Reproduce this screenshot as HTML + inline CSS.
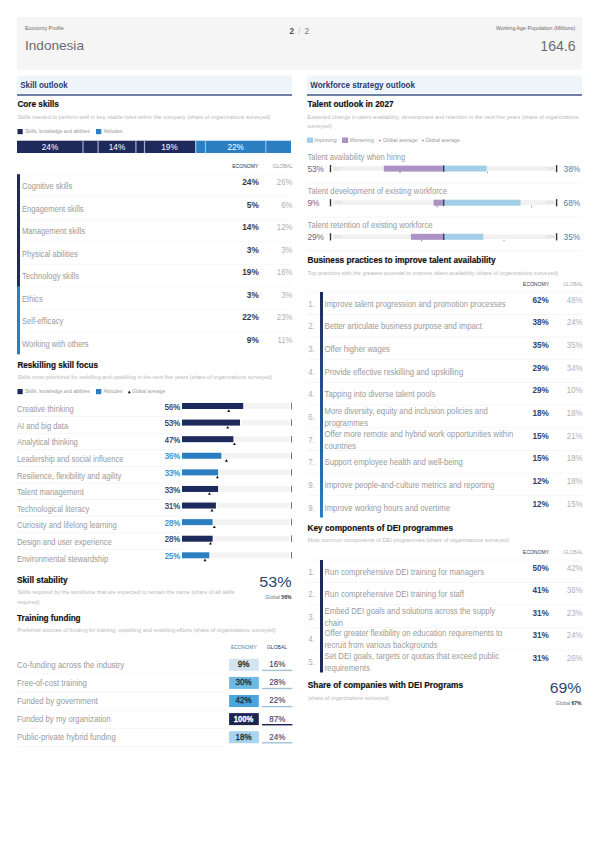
<!DOCTYPE html>
<html><head><meta charset="utf-8"><style>
html,body{margin:0;padding:0;background:#fff;}
body{width:600px;height:848px;overflow:hidden;}
svg{display:block;}
</style></head><body>
<svg width="600" height="848" viewBox="0 0 600 848" font-family="Liberation Sans, Arial, sans-serif">
<defs><linearGradient id="g1" x1="0" y1="0" x2="0" y2="1"><stop offset="0" stop-color="#1e2a5c"/><stop offset="1" stop-color="#2b7fc0"/></linearGradient></defs>
<rect x="0" y="0" width="600" height="848" fill="#fff"/>
<rect x="17.00" y="17.00" width="565.00" height="52.60" fill="#f5f5f5"/>
<text x="25.00" y="30.40" font-size="5.6" fill="#6a6a6a" textLength="38.69" lengthAdjust="spacingAndGlyphs">Economy Profile</text>
<text x="25.00" y="50.20" font-size="13.6" fill="#6c6c6c">Indonesia</text>
<text x="289.60" y="33.80" font-size="8.3" fill="#555" font-weight="700">2</text>
<text x="299.40" y="33.80" font-size="8.3" fill="#c4c4c4" text-anchor="middle">/</text>
<text x="304.60" y="33.80" font-size="8.3" fill="#777">2</text>
<text x="575.20" y="30.40" font-size="5.7" fill="#6a6a6a" text-anchor="end" textLength="79.20" lengthAdjust="spacingAndGlyphs">Working Age Population (Millions)</text>
<text x="575.60" y="50.70" font-size="14.3" fill="#6c6c6c" text-anchor="end" textLength="35.30" lengthAdjust="spacingAndGlyphs">164.6</text>
<rect x="17.00" y="75.50" width="275.00" height="17.80" fill="#eef6fc"/>
<rect x="17.00" y="94.00" width="275.00" height="2.00" fill="#6e80a7"/>
<text x="20.20" y="88.40" font-size="8.5" fill="#2a3a6e" font-weight="700" textLength="47.59" lengthAdjust="spacingAndGlyphs">Skill outlook</text>
<rect x="307.00" y="75.50" width="275.00" height="17.80" fill="#eef6fc"/>
<rect x="307.00" y="94.00" width="275.00" height="2.00" fill="#6e80a7"/>
<text x="310.20" y="88.40" font-size="8.5" fill="#2a3a6e" font-weight="700" textLength="104.80" lengthAdjust="spacingAndGlyphs">Workforce strategy outlook</text>
<text x="17.40" y="107.20" font-size="8.3" fill="#111" font-weight="700" textLength="41.48" lengthAdjust="spacingAndGlyphs" stroke="#111" stroke-width="0.18">Core skills</text>
<text x="17.50" y="119.00" font-size="5.6" fill="#b9b9b9">Skills needed to perform well in key, stable roles within the company (share of organizations surveyed)</text>
<rect x="17.50" y="129.00" width="5.20" height="5.20" fill="#1e2a5c"/>
<text x="25.00" y="133.30" font-size="4.9" fill="#999">Skills, knowledge and abilities</text>
<rect x="96.00" y="129.00" width="5.30" height="5.20" fill="#2b7fc0"/>
<text x="103.40" y="133.30" font-size="4.9" fill="#999">Attitudes</text>
<rect x="17.00" y="140.70" width="178.10" height="12.30" fill="#1e2a5c"/>
<rect x="195.10" y="140.70" width="95.90" height="12.30" fill="#2b7fc0"/>
<rect x="82.40" y="140.70" width="1.20" height="12.30" fill="#a3afd0"/>
<rect x="97.50" y="140.70" width="1.20" height="12.30" fill="#a3afd0"/>
<rect x="135.30" y="140.70" width="1.20" height="12.30" fill="#a3afd0"/>
<rect x="143.90" y="140.70" width="1.20" height="12.30" fill="#a3afd0"/>
<rect x="204.90" y="140.70" width="1.20" height="12.30" fill="#8cc2e8"/>
<rect x="265.20" y="140.70" width="1.20" height="12.30" fill="#8cc2e8"/>
<rect x="195.10" y="140.70" width="1.30" height="12.30" fill="#8cc2e8"/>
<text x="50.00" y="150.40" font-size="8.2" fill="#fff" text-anchor="middle">24%</text>
<text x="117.00" y="150.40" font-size="8.2" fill="#fff" text-anchor="middle">14%</text>
<text x="169.50" y="150.40" font-size="8.2" fill="#fff" text-anchor="middle">19%</text>
<text x="235.60" y="150.40" font-size="8.2" fill="#fff" text-anchor="middle">22%</text>
<text x="245.30" y="168.00" font-size="5.1" fill="#333" text-anchor="middle">ECONOMY</text>
<text x="282.70" y="168.00" font-size="5.0" fill="#999" text-anchor="middle">GLOBAL</text>
<rect x="17.00" y="173.70" width="275.00" height="1.00" fill="#f8f8f8"/>
<text x="22.00" y="189.00" font-size="8.5" fill="#9a9a9a" textLength="50.25" lengthAdjust="spacingAndGlyphs">Cognitive skills</text>
<text x="258.80" y="185.00" font-size="8.3" fill="#3a3a3a" font-weight="700" text-anchor="end">24%</text>
<text x="292.50" y="185.10" font-size="8.5" fill="#b0b0b0" text-anchor="end" textLength="15.65" lengthAdjust="spacingAndGlyphs">26%</text>
<rect x="17.00" y="196.22" width="275.00" height="1.00" fill="#f8f8f8"/>
<text x="22.00" y="211.52" font-size="8.5" fill="#9a9a9a" textLength="61.67" lengthAdjust="spacingAndGlyphs">Engagement skills</text>
<text x="258.80" y="207.52" font-size="8.3" fill="#3a3a3a" font-weight="700" text-anchor="end">5%</text>
<text x="292.50" y="207.62" font-size="8.5" fill="#b0b0b0" text-anchor="end" textLength="11.30" lengthAdjust="spacingAndGlyphs">6%</text>
<rect x="17.00" y="218.74" width="275.00" height="1.00" fill="#f8f8f8"/>
<text x="22.00" y="234.04" font-size="8.5" fill="#9a9a9a" textLength="62.93" lengthAdjust="spacingAndGlyphs">Management skills</text>
<text x="258.80" y="230.04" font-size="8.3" fill="#3a3a3a" font-weight="700" text-anchor="end">14%</text>
<text x="292.50" y="230.14" font-size="8.5" fill="#b0b0b0" text-anchor="end" textLength="15.65" lengthAdjust="spacingAndGlyphs">12%</text>
<rect x="17.00" y="241.26" width="275.00" height="1.00" fill="#f8f8f8"/>
<text x="22.00" y="256.56" font-size="8.5" fill="#9a9a9a" textLength="55.75" lengthAdjust="spacingAndGlyphs">Physical abilities</text>
<text x="258.80" y="252.56" font-size="8.3" fill="#3a3a3a" font-weight="700" text-anchor="end">3%</text>
<text x="292.50" y="252.66" font-size="8.5" fill="#b0b0b0" text-anchor="end" textLength="11.30" lengthAdjust="spacingAndGlyphs">3%</text>
<rect x="17.00" y="263.78" width="275.00" height="1.00" fill="#f8f8f8"/>
<text x="22.00" y="279.08" font-size="8.5" fill="#9a9a9a" textLength="57.02" lengthAdjust="spacingAndGlyphs">Technology skills</text>
<text x="258.80" y="275.08" font-size="8.3" fill="#3a3a3a" font-weight="700" text-anchor="end">19%</text>
<text x="292.50" y="275.18" font-size="8.5" fill="#b0b0b0" text-anchor="end" textLength="15.65" lengthAdjust="spacingAndGlyphs">16%</text>
<rect x="17.00" y="286.30" width="275.00" height="1.00" fill="#f8f8f8"/>
<text x="22.00" y="301.60" font-size="8.5" fill="#9a9a9a" textLength="20.69" lengthAdjust="spacingAndGlyphs">Ethics</text>
<text x="258.80" y="297.60" font-size="8.3" fill="#3a3a3a" font-weight="700" text-anchor="end">3%</text>
<text x="292.50" y="297.70" font-size="8.5" fill="#b0b0b0" text-anchor="end" textLength="11.30" lengthAdjust="spacingAndGlyphs">3%</text>
<rect x="17.00" y="308.82" width="275.00" height="1.00" fill="#f8f8f8"/>
<text x="22.00" y="324.12" font-size="8.5" fill="#9a9a9a" textLength="41.25" lengthAdjust="spacingAndGlyphs">Self-efficacy</text>
<text x="258.80" y="320.12" font-size="8.3" fill="#3a3a3a" font-weight="700" text-anchor="end">22%</text>
<text x="292.50" y="320.22" font-size="8.5" fill="#b0b0b0" text-anchor="end" textLength="15.65" lengthAdjust="spacingAndGlyphs">23%</text>
<rect x="17.00" y="331.34" width="275.00" height="1.00" fill="#f8f8f8"/>
<text x="22.00" y="346.64" font-size="8.5" fill="#9a9a9a" textLength="66.59" lengthAdjust="spacingAndGlyphs">Working with others</text>
<text x="258.80" y="342.64" font-size="8.3" fill="#3a3a3a" font-weight="700" text-anchor="end">9%</text>
<text x="292.50" y="342.74" font-size="8.5" fill="#b0b0b0" text-anchor="end" textLength="15.07" lengthAdjust="spacingAndGlyphs">11%</text>
<rect x="17.00" y="174.20" width="3.00" height="112.60" fill="#1e2a5c"/>
<rect x="17.00" y="286.80" width="3.00" height="67.56" fill="#2b7fc0"/>
<text x="17.40" y="368.00" font-size="8.3" fill="#111" font-weight="700" textLength="80.58" lengthAdjust="spacingAndGlyphs" stroke="#111" stroke-width="0.18">Reskilling skill focus</text>
<text x="17.50" y="379.10" font-size="5.55" fill="#b9b9b9">Skills most prioritized for reskilling and upskilling in the next five years (share of organizations surveyed)</text>
<rect x="17.50" y="389.00" width="5.20" height="5.20" fill="#1e2a5c"/>
<text x="25.00" y="393.40" font-size="4.9" fill="#999">Skills, knowledge and abilities</text>
<rect x="96.00" y="389.00" width="5.30" height="5.20" fill="#2b7fc0"/>
<text x="103.40" y="393.40" font-size="4.9" fill="#999">Attitudes</text>
<path d="M127.80 393.20L129.30 390.60L130.80 393.20Z" fill="#111"/>
<text x="132.00" y="393.40" font-size="4.9" fill="#999">Global average</text>
<text x="17.00" y="412.20" font-size="8.3" fill="#9a9a9a" textLength="56.63" lengthAdjust="spacingAndGlyphs">Creative thinking</text>
<text x="180.20" y="409.60" font-size="8.7" fill="#2c3458" text-anchor="end" textLength="15.50" lengthAdjust="spacingAndGlyphs" stroke="#2c3458" stroke-width="0.22">56%</text>
<rect x="244.46" y="403.20" width="45.14" height="5.60" fill="#f3f3f3"/>
<rect x="182.00" y="403.00" width="61.26" height="6.00" fill="#1e2a5c"/>
<rect x="291.00" y="402.70" width="0.90" height="6.60" fill="#666"/>
<path d="M227.30 411.90L228.80 409.30L230.30 411.90Z" fill="#111"/>
<rect x="17.00" y="416.29" width="165.00" height="0.70" fill="#f1f1f1"/>
<text x="17.00" y="428.79" font-size="8.3" fill="#9a9a9a" textLength="51.15" lengthAdjust="spacingAndGlyphs">AI and big data</text>
<text x="180.20" y="426.19" font-size="8.7" fill="#2c3458" text-anchor="end" textLength="15.50" lengthAdjust="spacingAndGlyphs" stroke="#2c3458" stroke-width="0.22">53%</text>
<rect x="241.18" y="419.79" width="48.42" height="5.60" fill="#f3f3f3"/>
<rect x="182.00" y="419.59" width="57.98" height="6.00" fill="#1e2a5c"/>
<rect x="291.00" y="419.29" width="0.90" height="6.60" fill="#666"/>
<path d="M226.20 428.49L227.70 425.89L229.20 428.49Z" fill="#111"/>
<rect x="17.00" y="432.88" width="165.00" height="0.70" fill="#f1f1f1"/>
<text x="17.00" y="445.38" font-size="8.3" fill="#9a9a9a" textLength="60.86" lengthAdjust="spacingAndGlyphs">Analytical thinking</text>
<text x="180.20" y="442.78" font-size="8.7" fill="#2c3458" text-anchor="end" textLength="15.50" lengthAdjust="spacingAndGlyphs" stroke="#2c3458" stroke-width="0.22">47%</text>
<rect x="234.62" y="436.38" width="54.98" height="5.60" fill="#f3f3f3"/>
<rect x="182.00" y="436.18" width="51.42" height="6.00" fill="#1e2a5c"/>
<rect x="291.00" y="435.88" width="0.90" height="6.60" fill="#666"/>
<path d="M232.90 445.08L234.40 442.48L235.90 445.08Z" fill="#111"/>
<rect x="17.00" y="449.47" width="165.00" height="0.70" fill="#f1f1f1"/>
<text x="17.00" y="461.97" font-size="8.3" fill="#9a9a9a" textLength="106.51" lengthAdjust="spacingAndGlyphs">Leadership and social influence</text>
<text x="180.20" y="459.37" font-size="8.7" fill="#3585c2" text-anchor="end" textLength="15.50" lengthAdjust="spacingAndGlyphs" stroke="#3585c2" stroke-width="0.22">36%</text>
<rect x="222.58" y="452.97" width="67.02" height="5.60" fill="#f3f3f3"/>
<rect x="182.00" y="452.77" width="39.38" height="6.00" fill="#2b7fc0"/>
<rect x="291.00" y="452.47" width="0.90" height="6.60" fill="#666"/>
<path d="M224.90 461.67L226.40 459.07L227.90 461.67Z" fill="#111"/>
<rect x="17.00" y="466.06" width="165.00" height="0.70" fill="#f1f1f1"/>
<text x="17.00" y="478.56" font-size="8.3" fill="#9a9a9a" textLength="104.38" lengthAdjust="spacingAndGlyphs">Resilience, flexibility and agility</text>
<text x="180.20" y="475.96" font-size="8.7" fill="#3585c2" text-anchor="end" textLength="15.50" lengthAdjust="spacingAndGlyphs" stroke="#3585c2" stroke-width="0.22">33%</text>
<rect x="219.30" y="469.56" width="70.30" height="5.60" fill="#f3f3f3"/>
<rect x="182.00" y="469.36" width="36.10" height="6.00" fill="#2b7fc0"/>
<rect x="291.00" y="469.06" width="0.90" height="6.60" fill="#666"/>
<path d="M215.90 478.26L217.40 475.66L218.90 478.26Z" fill="#111"/>
<rect x="17.00" y="482.65" width="165.00" height="0.70" fill="#f1f1f1"/>
<text x="17.00" y="495.15" font-size="8.3" fill="#9a9a9a" textLength="66.78" lengthAdjust="spacingAndGlyphs">Talent management</text>
<text x="180.20" y="492.55" font-size="8.7" fill="#2c3458" text-anchor="end" textLength="15.50" lengthAdjust="spacingAndGlyphs" stroke="#2c3458" stroke-width="0.22">33%</text>
<rect x="219.30" y="486.15" width="70.30" height="5.60" fill="#f3f3f3"/>
<rect x="182.00" y="485.95" width="36.10" height="6.00" fill="#1e2a5c"/>
<rect x="291.00" y="485.65" width="0.90" height="6.60" fill="#666"/>
<path d="M207.90 494.85L209.40 492.25L210.90 494.85Z" fill="#111"/>
<rect x="17.00" y="499.24" width="165.00" height="0.70" fill="#f1f1f1"/>
<text x="17.00" y="511.74" font-size="8.3" fill="#9a9a9a" textLength="72.26" lengthAdjust="spacingAndGlyphs">Technological literacy</text>
<text x="180.20" y="509.14" font-size="8.7" fill="#2c3458" text-anchor="end" textLength="15.50" lengthAdjust="spacingAndGlyphs" stroke="#2c3458" stroke-width="0.22">31%</text>
<rect x="217.11" y="502.74" width="72.49" height="5.60" fill="#f3f3f3"/>
<rect x="182.00" y="502.54" width="33.91" height="6.00" fill="#1e2a5c"/>
<rect x="291.00" y="502.24" width="0.90" height="6.60" fill="#666"/>
<path d="M210.50 511.44L212.00 508.84L213.50 511.44Z" fill="#111"/>
<rect x="17.00" y="515.83" width="165.00" height="0.70" fill="#f1f1f1"/>
<text x="17.00" y="528.33" font-size="8.3" fill="#9a9a9a" textLength="99.74" lengthAdjust="spacingAndGlyphs">Curiosity and lifelong learning</text>
<text x="180.20" y="525.73" font-size="8.7" fill="#3585c2" text-anchor="end" textLength="15.50" lengthAdjust="spacingAndGlyphs" stroke="#3585c2" stroke-width="0.22">28%</text>
<rect x="213.83" y="519.33" width="75.77" height="5.60" fill="#f3f3f3"/>
<rect x="182.00" y="519.13" width="30.63" height="6.00" fill="#2b7fc0"/>
<rect x="291.00" y="518.83" width="0.90" height="6.60" fill="#666"/>
<path d="M212.80 528.03L214.30 525.43L215.80 528.03Z" fill="#111"/>
<rect x="17.00" y="532.42" width="165.00" height="0.70" fill="#f1f1f1"/>
<text x="17.00" y="544.92" font-size="8.3" fill="#9a9a9a" textLength="94.67" lengthAdjust="spacingAndGlyphs">Design and user experience</text>
<text x="180.20" y="542.32" font-size="8.7" fill="#2c3458" text-anchor="end" textLength="15.50" lengthAdjust="spacingAndGlyphs" stroke="#2c3458" stroke-width="0.22">28%</text>
<rect x="213.83" y="535.92" width="75.77" height="5.60" fill="#f3f3f3"/>
<rect x="182.00" y="535.72" width="30.63" height="6.00" fill="#1e2a5c"/>
<rect x="291.00" y="535.42" width="0.90" height="6.60" fill="#666"/>
<path d="M208.90 544.62L210.40 542.02L211.90 544.62Z" fill="#111"/>
<rect x="17.00" y="549.01" width="165.00" height="0.70" fill="#f1f1f1"/>
<text x="17.00" y="561.51" font-size="8.3" fill="#9a9a9a" textLength="91.28" lengthAdjust="spacingAndGlyphs">Environmental stewardship</text>
<text x="180.20" y="558.91" font-size="8.7" fill="#3585c2" text-anchor="end" textLength="15.50" lengthAdjust="spacingAndGlyphs" stroke="#3585c2" stroke-width="0.22">25%</text>
<rect x="210.55" y="552.51" width="79.05" height="5.60" fill="#f3f3f3"/>
<rect x="182.00" y="552.31" width="27.35" height="6.00" fill="#2b7fc0"/>
<rect x="291.00" y="552.01" width="0.90" height="6.60" fill="#666"/>
<path d="M203.50 561.21L205.00 558.61L206.50 561.21Z" fill="#111"/>
<text x="17.00" y="583.00" font-size="8.3" fill="#111" font-weight="700" textLength="50.58" lengthAdjust="spacingAndGlyphs" stroke="#111" stroke-width="0.18">Skill stability</text>
<text x="17.50" y="594.40" font-size="5.6" fill="#b9b9b9" textLength="216.89" lengthAdjust="spacingAndGlyphs">Skills required by the workforce that are expected to remain the same (share of all skills</text>
<text x="17.50" y="603.60" font-size="5.55" fill="#b9b9b9">required)</text>
<text x="291.50" y="586.70" font-size="15.3" fill="#2d4670" text-anchor="end" textLength="32.27" lengthAdjust="spacingAndGlyphs">53%</text>
<text x="291.50" y="599.40" font-size="5.1" fill="#777" text-anchor="end" textLength="26.16" lengthAdjust="spacingAndGlyphs">Global <tspan font-weight="700" fill="#333">56%</tspan></text>
<text x="17.00" y="621.20" font-size="8.3" fill="#111" font-weight="700" textLength="63.58" lengthAdjust="spacingAndGlyphs" stroke="#111" stroke-width="0.18">Training funding</text>
<text x="17.50" y="632.00" font-size="5.55" fill="#b9b9b9">Preferred sources of funding for training, upskilling and reskilling efforts (share of organizations surveyed)</text>
<text x="243.80" y="649.30" font-size="5.0" fill="#4f7ea6" text-anchor="middle">ECONOMY</text>
<text x="277.00" y="649.30" font-size="5.0" fill="#2d3c66" text-anchor="middle">GLOBAL</text>
<text x="17.00" y="668.00" font-size="8.3" fill="#9a9a9a" textLength="107.33" lengthAdjust="spacingAndGlyphs">Co-funding across the industry</text>
<rect x="17.00" y="673.70" width="212.00" height="0.60" fill="#f1f1f1"/>
<rect x="229.10" y="658.80" width="29.70" height="12.00" fill="#d3e4ef"/>
<text x="243.60" y="667.20" font-size="8.9" fill="#222" text-anchor="middle" textLength="11.58" lengthAdjust="spacingAndGlyphs" stroke="#222" stroke-width="0.3">9%</text>
<text x="277.30" y="667.20" font-size="8.9" fill="#34406a" text-anchor="middle" textLength="16.03" lengthAdjust="spacingAndGlyphs" stroke="#34406a" stroke-width="0.12">16%</text>
<rect x="262.10" y="669.70" width="30.30" height="1.40" fill="#a3c1d6"/>
<text x="17.00" y="686.10" font-size="8.3" fill="#9a9a9a" textLength="69.98" lengthAdjust="spacingAndGlyphs">Free-of-cost training</text>
<rect x="17.00" y="691.80" width="212.00" height="0.60" fill="#f1f1f1"/>
<rect x="229.10" y="676.90" width="29.70" height="12.00" fill="#6db8e4"/>
<text x="243.60" y="685.30" font-size="8.9" fill="#1a2a40" text-anchor="middle" textLength="16.03" lengthAdjust="spacingAndGlyphs" stroke="#1a2a40" stroke-width="0.3">30%</text>
<text x="277.30" y="685.30" font-size="8.9" fill="#34406a" text-anchor="middle" textLength="16.03" lengthAdjust="spacingAndGlyphs" stroke="#34406a" stroke-width="0.12">28%</text>
<rect x="262.10" y="687.80" width="30.30" height="1.40" fill="#a3c1d6"/>
<text x="17.00" y="704.20" font-size="8.3" fill="#9a9a9a" textLength="80.78" lengthAdjust="spacingAndGlyphs">Funded by government</text>
<rect x="17.00" y="709.90" width="212.00" height="0.60" fill="#f1f1f1"/>
<rect x="229.10" y="695.00" width="29.70" height="12.00" fill="#4aa6df"/>
<text x="243.60" y="703.40" font-size="8.9" fill="#1a2a40" text-anchor="middle" textLength="16.03" lengthAdjust="spacingAndGlyphs" stroke="#1a2a40" stroke-width="0.3">42%</text>
<text x="277.30" y="703.40" font-size="8.9" fill="#34406a" text-anchor="middle" textLength="16.03" lengthAdjust="spacingAndGlyphs" stroke="#34406a" stroke-width="0.12">22%</text>
<rect x="262.10" y="705.90" width="30.30" height="1.40" fill="#a3c1d6"/>
<text x="17.00" y="722.30" font-size="8.3" fill="#9a9a9a" textLength="93.78" lengthAdjust="spacingAndGlyphs">Funded by my organization</text>
<rect x="17.00" y="728.00" width="212.00" height="0.60" fill="#f1f1f1"/>
<rect x="229.10" y="713.10" width="29.70" height="12.00" fill="#1c2452"/>
<text x="243.60" y="721.50" font-size="8.9" fill="#fff" font-weight="700" text-anchor="middle" textLength="19.58" lengthAdjust="spacingAndGlyphs" stroke="#fff" stroke-width="0.3">100%</text>
<text x="277.30" y="721.50" font-size="8.9" fill="#34406a" text-anchor="middle" textLength="16.03" lengthAdjust="spacingAndGlyphs" stroke="#34406a" stroke-width="0.12">87%</text>
<rect x="262.10" y="724.00" width="30.30" height="1.40" fill="#1c2452"/>
<text x="17.00" y="740.40" font-size="8.3" fill="#9a9a9a" textLength="98.78" lengthAdjust="spacingAndGlyphs">Public-private hybrid funding</text>
<rect x="17.00" y="746.10" width="212.00" height="0.60" fill="#f1f1f1"/>
<rect x="229.10" y="731.20" width="29.70" height="12.00" fill="#a9d3ee"/>
<text x="243.60" y="739.60" font-size="8.9" fill="#1a2a40" text-anchor="middle" textLength="16.03" lengthAdjust="spacingAndGlyphs" stroke="#1a2a40" stroke-width="0.3">18%</text>
<text x="277.30" y="739.60" font-size="8.9" fill="#34406a" text-anchor="middle" textLength="16.03" lengthAdjust="spacingAndGlyphs" stroke="#34406a" stroke-width="0.12">24%</text>
<rect x="262.10" y="742.10" width="30.30" height="1.40" fill="#a3c1d6"/>
<text x="307.50" y="107.20" font-size="8.3" fill="#111" font-weight="700" textLength="86.08" lengthAdjust="spacingAndGlyphs" stroke="#111" stroke-width="0.18">Talent outlook in 2027</text>
<text x="307.30" y="119.40" font-size="5.58" fill="#b9b9b9">Expected change in talent availability, development and retention in the next five years (share of organizations</text>
<text x="307.30" y="128.20" font-size="5.58" fill="#b9b9b9">surveyed)</text>
<rect x="307.00" y="137.50" width="6.00" height="5.50" fill="#a2cee8"/>
<text x="314.30" y="142.20" font-size="5.1" fill="#999">Improving</text>
<rect x="342.00" y="137.50" width="6.20" height="5.50" fill="#ad92c6"/>
<text x="349.70" y="142.20" font-size="5.1" fill="#999">Worsening</text>
<path d="M379 139.4L381 140.6L379 141.8Z" fill="#8a6fa8"/>
<text x="382.80" y="142.20" font-size="5.1" fill="#999">Global average</text>
<path d="M423.5 139.4L421.5 140.6L423.5 141.8Z" fill="#4a8fc0"/>
<text x="425.20" y="142.20" font-size="5.1" fill="#999">Global average</text>
<text x="307.60" y="160.00" font-size="9.0" fill="#9a9a9a" textLength="97.63" lengthAdjust="spacingAndGlyphs">Talent availability when hiring</text>
<text x="307.40" y="172.20" font-size="8.6" fill="#76628f" textLength="16.61" lengthAdjust="spacingAndGlyphs">53%</text>
<text x="563.60" y="172.20" font-size="8.6" fill="#4a80ad" textLength="16.61" lengthAdjust="spacingAndGlyphs">38%</text>
<rect x="333.00" y="166.10" width="222.00" height="4.80" fill="#f1f1f1"/>
<text x="333.50" y="169.80" font-size="3.3" fill="#d6d6d6">100%</text>
<text x="554.50" y="169.80" font-size="3.3" fill="#d6d6d6" text-anchor="end">100%</text>
<rect x="329.80" y="165.00" width="1.40" height="7.20" fill="#333"/>
<rect x="555.90" y="165.00" width="1.40" height="7.20" fill="#333"/>
<rect x="383.81" y="165.60" width="59.89" height="6.00" fill="#ad92c6"/>
<rect x="443.70" y="165.60" width="42.94" height="6.00" fill="#a2cee8"/>
<rect x="443.00" y="165.40" width="1.40" height="6.40" fill="#3a3d66"/>
<rect x="399.60" y="171.60" width="0.80" height="1.60" fill="#6b5290"/>
<rect x="487.20" y="171.60" width="0.80" height="1.60" fill="#6a94b8"/>
<rect x="307.00" y="182.60" width="275.00" height="0.70" fill="#f0f0f0"/>
<text x="307.60" y="194.10" font-size="9.0" fill="#9a9a9a" textLength="139.43" lengthAdjust="spacingAndGlyphs">Talent development of existing workforce</text>
<text x="307.40" y="206.30" font-size="8.6" fill="#76628f" textLength="12.16" lengthAdjust="spacingAndGlyphs">9%</text>
<text x="563.60" y="206.30" font-size="8.6" fill="#4a80ad" textLength="16.61" lengthAdjust="spacingAndGlyphs">68%</text>
<rect x="333.00" y="200.20" width="222.00" height="4.80" fill="#f1f1f1"/>
<text x="333.50" y="203.90" font-size="3.3" fill="#d6d6d6">100%</text>
<text x="554.50" y="203.90" font-size="3.3" fill="#d6d6d6" text-anchor="end">100%</text>
<rect x="329.80" y="199.10" width="1.40" height="7.20" fill="#333"/>
<rect x="555.90" y="199.10" width="1.40" height="7.20" fill="#333"/>
<rect x="433.53" y="199.70" width="10.17" height="6.00" fill="#ad92c6"/>
<rect x="443.70" y="199.70" width="76.84" height="6.00" fill="#a2cee8"/>
<rect x="443.00" y="199.50" width="1.40" height="6.40" fill="#3a3d66"/>
<rect x="436.60" y="205.70" width="0.80" height="1.60" fill="#6b5290"/>
<rect x="531.10" y="205.70" width="0.80" height="1.60" fill="#6a94b8"/>
<rect x="307.00" y="216.70" width="275.00" height="0.70" fill="#f0f0f0"/>
<text x="307.60" y="228.20" font-size="9.0" fill="#9a9a9a" textLength="124.93" lengthAdjust="spacingAndGlyphs">Talent retention of existing workforce</text>
<text x="307.40" y="240.40" font-size="8.6" fill="#76628f" textLength="16.61" lengthAdjust="spacingAndGlyphs">29%</text>
<text x="563.60" y="240.40" font-size="8.6" fill="#4a80ad" textLength="16.61" lengthAdjust="spacingAndGlyphs">35%</text>
<rect x="333.00" y="234.30" width="222.00" height="4.80" fill="#f1f1f1"/>
<text x="333.50" y="238.00" font-size="3.3" fill="#d6d6d6">100%</text>
<text x="554.50" y="238.00" font-size="3.3" fill="#d6d6d6" text-anchor="end">100%</text>
<rect x="329.80" y="233.20" width="1.40" height="7.20" fill="#333"/>
<rect x="555.90" y="233.20" width="1.40" height="7.20" fill="#333"/>
<rect x="410.93" y="233.80" width="32.77" height="6.00" fill="#ad92c6"/>
<rect x="443.70" y="233.80" width="39.55" height="6.00" fill="#a2cee8"/>
<rect x="443.00" y="233.60" width="1.40" height="6.40" fill="#3a3d66"/>
<rect x="421.35" y="239.80" width="0.80" height="1.60" fill="#6b5290"/>
<rect x="503.60" y="239.80" width="0.80" height="1.60" fill="#6a94b8"/>
<rect x="307.00" y="250.50" width="275.00" height="0.70" fill="#f0f0f0"/>
<text x="307.50" y="263.30" font-size="8.3" fill="#111" font-weight="700" textLength="188.08" lengthAdjust="spacingAndGlyphs" stroke="#111" stroke-width="0.18">Business practices to improve talent availability</text>
<text x="307.50" y="275.20" font-size="5.56" fill="#b9b9b9">Top practices with the greatest potential to improve talent availability (share of organizations surveyed)</text>
<text x="536.00" y="286.00" font-size="5.1" fill="#2d3c66" text-anchor="middle">ECONOMY</text>
<text x="573.00" y="286.00" font-size="5.0" fill="#aaa" text-anchor="middle">GLOBAL</text>
<rect x="307.00" y="291.35" width="276.00" height="0.70" fill="#f3f3f3"/>
<text x="308.20" y="306.60" font-size="8.6" fill="#b0b0b0" textLength="6.60" lengthAdjust="spacingAndGlyphs">1.</text>
<text x="324.50" y="306.60" font-size="8.6" fill="#9a9a9a" textLength="181.10" lengthAdjust="spacingAndGlyphs">Improve talent progression and promotion processes</text>
<text x="548.80" y="302.70" font-size="8.2" fill="#34446c" font-weight="700" text-anchor="end">62%</text>
<text x="582.50" y="302.80" font-size="8.5" fill="#b0b0b0" text-anchor="end" textLength="15.65" lengthAdjust="spacingAndGlyphs">48%</text>
<rect x="307.00" y="314.02" width="276.00" height="0.70" fill="#f3f3f3"/>
<text x="308.20" y="329.27" font-size="8.6" fill="#b0b0b0" textLength="6.60" lengthAdjust="spacingAndGlyphs">2.</text>
<text x="324.50" y="329.27" font-size="8.6" fill="#9a9a9a" textLength="157.39" lengthAdjust="spacingAndGlyphs">Better articulate business purpose and impact</text>
<text x="548.80" y="325.37" font-size="8.2" fill="#34446c" font-weight="700" text-anchor="end">38%</text>
<text x="582.50" y="325.47" font-size="8.5" fill="#b0b0b0" text-anchor="end" textLength="15.65" lengthAdjust="spacingAndGlyphs">24%</text>
<rect x="307.00" y="336.69" width="276.00" height="0.70" fill="#f3f3f3"/>
<text x="308.20" y="351.94" font-size="8.6" fill="#b0b0b0" textLength="6.60" lengthAdjust="spacingAndGlyphs">3.</text>
<text x="324.50" y="351.94" font-size="8.6" fill="#9a9a9a" textLength="65.40" lengthAdjust="spacingAndGlyphs">Offer higher wages</text>
<text x="548.80" y="348.04" font-size="8.2" fill="#34446c" font-weight="700" text-anchor="end">35%</text>
<text x="582.50" y="348.14" font-size="8.5" fill="#b0b0b0" text-anchor="end" textLength="15.65" lengthAdjust="spacingAndGlyphs">35%</text>
<rect x="307.00" y="359.36" width="276.00" height="0.70" fill="#f3f3f3"/>
<text x="308.20" y="374.61" font-size="8.6" fill="#b0b0b0" textLength="6.60" lengthAdjust="spacingAndGlyphs">4.</text>
<text x="324.50" y="374.61" font-size="8.6" fill="#9a9a9a" textLength="138.70" lengthAdjust="spacingAndGlyphs">Provide effective reskilling and upskilling</text>
<text x="548.80" y="370.71" font-size="8.2" fill="#34446c" font-weight="700" text-anchor="end">29%</text>
<text x="582.50" y="370.81" font-size="8.5" fill="#b0b0b0" text-anchor="end" textLength="15.65" lengthAdjust="spacingAndGlyphs">34%</text>
<rect x="307.00" y="382.03" width="276.00" height="0.70" fill="#f3f3f3"/>
<text x="308.20" y="397.28" font-size="8.6" fill="#b0b0b0" textLength="6.60" lengthAdjust="spacingAndGlyphs">4.</text>
<text x="324.50" y="397.28" font-size="8.6" fill="#9a9a9a" textLength="110.83" lengthAdjust="spacingAndGlyphs">Tapping into diverse talent pools</text>
<text x="548.80" y="393.38" font-size="8.2" fill="#34446c" font-weight="700" text-anchor="end">29%</text>
<text x="582.50" y="393.48" font-size="8.5" fill="#b0b0b0" text-anchor="end" textLength="15.65" lengthAdjust="spacingAndGlyphs">10%</text>
<rect x="307.00" y="404.70" width="276.00" height="0.70" fill="#f3f3f3"/>
<text x="308.20" y="419.95" font-size="8.6" fill="#b0b0b0" textLength="6.60" lengthAdjust="spacingAndGlyphs">6.</text>
<text x="324.50" y="413.95" font-size="8.6" fill="#9a9a9a" textLength="163.27" lengthAdjust="spacingAndGlyphs">More diversity, equity and inclusion policies and</text>
<text x="324.50" y="425.95" font-size="8.6" fill="#9a9a9a" textLength="43.54" lengthAdjust="spacingAndGlyphs">programmes</text>
<text x="548.80" y="416.05" font-size="8.2" fill="#34446c" font-weight="700" text-anchor="end">18%</text>
<text x="582.50" y="416.15" font-size="8.5" fill="#b0b0b0" text-anchor="end" textLength="15.65" lengthAdjust="spacingAndGlyphs">18%</text>
<rect x="307.00" y="427.37" width="276.00" height="0.70" fill="#f3f3f3"/>
<text x="308.20" y="442.62" font-size="8.6" fill="#b0b0b0" textLength="6.60" lengthAdjust="spacingAndGlyphs">7.</text>
<text x="324.50" y="436.62" font-size="8.6" fill="#9a9a9a" textLength="188.70" lengthAdjust="spacingAndGlyphs">Offer more remote and hybrid work opportunities within</text>
<text x="324.50" y="448.62" font-size="8.6" fill="#9a9a9a" textLength="31.48" lengthAdjust="spacingAndGlyphs">countries</text>
<text x="548.80" y="438.72" font-size="8.2" fill="#34446c" font-weight="700" text-anchor="end">15%</text>
<text x="582.50" y="438.82" font-size="8.5" fill="#b0b0b0" text-anchor="end" textLength="15.65" lengthAdjust="spacingAndGlyphs">21%</text>
<rect x="307.00" y="450.04" width="276.00" height="0.70" fill="#f3f3f3"/>
<text x="308.20" y="465.29" font-size="8.6" fill="#b0b0b0" textLength="6.60" lengthAdjust="spacingAndGlyphs">7.</text>
<text x="324.50" y="465.29" font-size="8.6" fill="#9a9a9a" textLength="138.43" lengthAdjust="spacingAndGlyphs">Support employee health and well-being</text>
<text x="548.80" y="461.39" font-size="8.2" fill="#34446c" font-weight="700" text-anchor="end">15%</text>
<text x="582.50" y="461.49" font-size="8.5" fill="#b0b0b0" text-anchor="end" textLength="15.65" lengthAdjust="spacingAndGlyphs">18%</text>
<rect x="307.00" y="472.71" width="276.00" height="0.70" fill="#f3f3f3"/>
<text x="308.20" y="487.96" font-size="8.6" fill="#b0b0b0" textLength="6.60" lengthAdjust="spacingAndGlyphs">9.</text>
<text x="324.50" y="487.96" font-size="8.6" fill="#9a9a9a" textLength="169.88" lengthAdjust="spacingAndGlyphs">Improve people-and-culture metrics and reporting</text>
<text x="548.80" y="484.06" font-size="8.2" fill="#34446c" font-weight="700" text-anchor="end">12%</text>
<text x="582.50" y="484.16" font-size="8.5" fill="#b0b0b0" text-anchor="end" textLength="15.65" lengthAdjust="spacingAndGlyphs">18%</text>
<rect x="307.00" y="495.38" width="276.00" height="0.70" fill="#f3f3f3"/>
<text x="308.20" y="510.63" font-size="8.6" fill="#b0b0b0" textLength="6.60" lengthAdjust="spacingAndGlyphs">9.</text>
<text x="324.50" y="510.63" font-size="8.6" fill="#9a9a9a" textLength="125.46" lengthAdjust="spacingAndGlyphs">Improve working hours and overtime</text>
<text x="548.80" y="506.73" font-size="8.2" fill="#34446c" font-weight="700" text-anchor="end">12%</text>
<text x="582.50" y="506.83" font-size="8.5" fill="#b0b0b0" text-anchor="end" textLength="15.65" lengthAdjust="spacingAndGlyphs">15%</text>
<rect x="320.00" y="292.00" width="3.00" height="225.50" fill="url(#g1)"/>
<text x="307.50" y="530.80" font-size="8.3" fill="#111" font-weight="700" textLength="145.58" lengthAdjust="spacingAndGlyphs" stroke="#111" stroke-width="0.18">Key components of DEI programmes</text>
<text x="307.50" y="542.30" font-size="5.6" fill="#b9b9b9">Most common components of DEI programmes (share of organizations surveyed)</text>
<text x="536.00" y="553.80" font-size="5.1" fill="#2d3c66" text-anchor="middle">ECONOMY</text>
<text x="573.00" y="553.80" font-size="5.0" fill="#aaa" text-anchor="middle">GLOBAL</text>
<rect x="307.00" y="559.65" width="276.00" height="0.70" fill="#f3f3f3"/>
<text x="308.20" y="574.70" font-size="8.6" fill="#b0b0b0" textLength="6.60" lengthAdjust="spacingAndGlyphs">1.</text>
<text x="324.50" y="574.90" font-size="8.6" fill="#9a9a9a" textLength="159.53" lengthAdjust="spacingAndGlyphs">Run comprehensive DEI training for managers</text>
<text x="548.80" y="570.80" font-size="8.2" fill="#34446c" font-weight="700" text-anchor="end">50%</text>
<text x="582.50" y="570.90" font-size="8.5" fill="#b0b0b0" text-anchor="end" textLength="15.65" lengthAdjust="spacingAndGlyphs">42%</text>
<rect x="307.00" y="582.15" width="276.00" height="0.70" fill="#f3f3f3"/>
<text x="308.20" y="597.20" font-size="8.6" fill="#b0b0b0" textLength="6.60" lengthAdjust="spacingAndGlyphs">2.</text>
<text x="324.50" y="597.40" font-size="8.6" fill="#9a9a9a" textLength="139.55" lengthAdjust="spacingAndGlyphs">Run comprehensive DEI training for staff</text>
<text x="548.80" y="593.30" font-size="8.2" fill="#34446c" font-weight="700" text-anchor="end">41%</text>
<text x="582.50" y="593.40" font-size="8.5" fill="#b0b0b0" text-anchor="end" textLength="15.65" lengthAdjust="spacingAndGlyphs">36%</text>
<rect x="307.00" y="604.65" width="276.00" height="0.70" fill="#f3f3f3"/>
<text x="308.20" y="619.70" font-size="8.6" fill="#b0b0b0" textLength="6.60" lengthAdjust="spacingAndGlyphs">3.</text>
<text x="324.50" y="613.90" font-size="8.6" fill="#9a9a9a" textLength="170.75" lengthAdjust="spacingAndGlyphs">Embed DEI goals and solutions across the supply</text>
<text x="324.50" y="625.90" font-size="8.6" fill="#9a9a9a" textLength="18.54" lengthAdjust="spacingAndGlyphs">chain</text>
<text x="548.80" y="615.80" font-size="8.2" fill="#34446c" font-weight="700" text-anchor="end">31%</text>
<text x="582.50" y="615.90" font-size="8.5" fill="#b0b0b0" text-anchor="end" textLength="15.65" lengthAdjust="spacingAndGlyphs">23%</text>
<rect x="307.00" y="627.15" width="276.00" height="0.70" fill="#f3f3f3"/>
<text x="308.20" y="642.20" font-size="8.6" fill="#b0b0b0" textLength="6.60" lengthAdjust="spacingAndGlyphs">4.</text>
<text x="324.50" y="636.40" font-size="8.6" fill="#9a9a9a" textLength="177.94" lengthAdjust="spacingAndGlyphs">Offer greater flexibility on education requirements to</text>
<text x="324.50" y="648.40" font-size="8.6" fill="#9a9a9a" textLength="112.96" lengthAdjust="spacingAndGlyphs">recruit from various backgrounds</text>
<text x="548.80" y="638.30" font-size="8.2" fill="#34446c" font-weight="700" text-anchor="end">31%</text>
<text x="582.50" y="638.40" font-size="8.5" fill="#b0b0b0" text-anchor="end" textLength="15.65" lengthAdjust="spacingAndGlyphs">24%</text>
<rect x="307.00" y="649.65" width="276.00" height="0.70" fill="#f3f3f3"/>
<text x="308.20" y="664.70" font-size="8.6" fill="#b0b0b0" textLength="6.60" lengthAdjust="spacingAndGlyphs">5.</text>
<text x="324.50" y="658.90" font-size="8.6" fill="#9a9a9a" textLength="174.64" lengthAdjust="spacingAndGlyphs">Set DEI goals, targets or quotas that exceed public</text>
<text x="324.50" y="670.90" font-size="8.6" fill="#9a9a9a" textLength="45.27" lengthAdjust="spacingAndGlyphs">requirements</text>
<text x="548.80" y="660.80" font-size="8.2" fill="#34446c" font-weight="700" text-anchor="end">31%</text>
<text x="582.50" y="660.90" font-size="8.5" fill="#b0b0b0" text-anchor="end" textLength="15.65" lengthAdjust="spacingAndGlyphs">26%</text>
<rect x="320.00" y="560.00" width="3.00" height="112.50" fill="#1e2a5c"/>
<text x="307.80" y="688.30" font-size="8.3" fill="#111" font-weight="700" textLength="155.28" lengthAdjust="spacingAndGlyphs" stroke="#111" stroke-width="0.18">Share of companies with DEI Programs</text>
<text x="307.80" y="700.00" font-size="5.47" fill="#b9b9b9">(share of organizations surveyed)</text>
<text x="581.40" y="692.60" font-size="15.2" fill="#2d4670" text-anchor="end" textLength="31.66" lengthAdjust="spacingAndGlyphs">69%</text>
<text x="581.40" y="705.00" font-size="5.1" fill="#777" text-anchor="end" textLength="25.56" lengthAdjust="spacingAndGlyphs">Global <tspan font-weight="700" fill="#333">67%</tspan></text>
</svg>
</body></html>
